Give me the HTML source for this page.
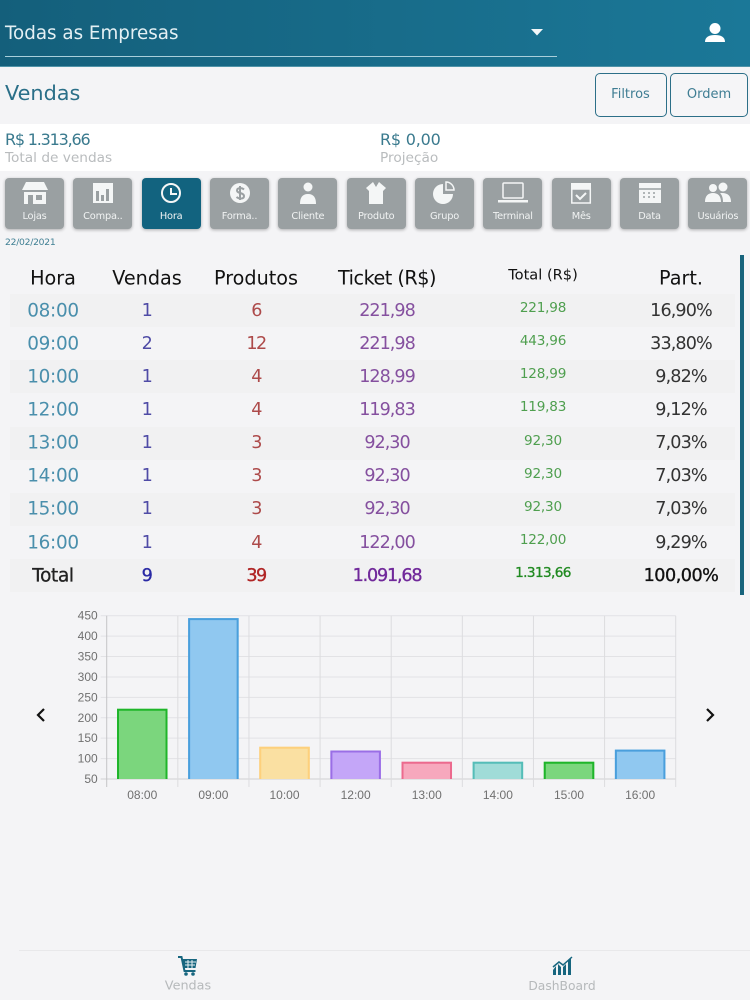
<!DOCTYPE html>
<html lang="pt-BR">
<head>
<meta charset="utf-8">
<title>Vendas por Hora</title>
<style>
html,body{margin:0;padding:0;width:750px;height:1000px;overflow:hidden;background:#f4f4f6;font-family:"DejaVu Sans","Liberation Sans",sans-serif;}
.a{position:absolute;white-space:nowrap;}
.c{transform:translate(-50%,-50%);}
#page{position:relative;width:750px;height:1000px;overflow:hidden;}
.tab{position:absolute;top:178px;width:59px;height:51px;background:#9aa0a2;border-radius:4px;box-shadow:0 1px 3px rgba(0,0,0,.3);color:#f1f3f3;text-align:center;}
.tab.on{background:#12637f;}
.tab span{position:absolute;left:-4px;right:-4px;top:33px;font-size:9.8px;line-height:12px;letter-spacing:-.2px;}
.tab svg{position:absolute;left:14.5px;top:3px;width:30px;height:24px;fill:#f4f6f6;}
.row{position:absolute;left:10px;width:725px;height:33px;}
.cell{position:absolute;white-space:nowrap;transform:translate(-50%,-50%);}
.btn{position:absolute;top:73px;height:44px;border:1.5px solid #2c6f88;border-radius:5px;box-sizing:border-box;color:#3f7d93;font-size:13px;line-height:41px;text-align:center;background:#f5f5f7;}
</style>
</head>
<body>
<div id="page">
  <div class="a" style="left:0;top:0;width:750px;height:67px;background:linear-gradient(90deg,#145f7b,#1b7898);border-bottom:1px solid #4f93a8;box-sizing:border-box;"></div>
  <div class="a" style="left:5px;top:22px;font-size:18.3px;line-height:24px;color:#e4f0f4;">Todas as Empresas</div>
  <div class="a" style="left:5px;top:56px;width:552px;height:1px;background:#a9cfdb;"></div>
  <svg class="a" style="left:531px;top:29px" width="12" height="7"><path d="M0 0H12L6 6.5Z" fill="#f2f7f9"/></svg>
  <svg class="a" style="left:704px;top:22px" width="22" height="22"><circle cx="11" cy="6.5" r="5.5" fill="#fff"/><path d="M1 20c0-5 4-7 10-7s10 2 10 7z" fill="#fff"/></svg>

  <div class="a" style="left:5px;top:80px;font-size:20.8px;line-height:27px;color:#2a6f88;">Vendas</div>
  <div class="btn" style="left:594.5px;width:72px;">Filtros</div>
  <div class="btn" style="left:670px;width:78px;">Ordem</div>

  <div class="a" style="left:0;top:124px;width:750px;height:47px;background:#fff;"></div>
  <div class="a" style="left:5px;top:130px;font-size:16px;line-height:19px;letter-spacing:-1.2px;color:#3a7a8e;">R$ 1.313,66</div>
  <div class="a" style="left:5px;top:150px;font-size:13.7px;line-height:17px;color:#b9bcbe;">Total de vendas</div>
  <div class="a" style="left:380px;top:130px;font-size:16px;line-height:19px;letter-spacing:-.2px;color:#3a7a8e;">R$ 0,00</div>
  <div class="a" style="left:380px;top:150px;font-size:13.7px;line-height:17px;color:#b9bcbe;">Projeção</div>

  <div class="tab" style="left:5px"><svg viewBox="0 0 30 24"><path d="M6 1h18l4 8H2zM4 11h22v12H4z"/><rect x="8" y="14" width="5" height="9" fill="#9aa0a2"/><rect x="16" y="14" width="6" height="5" fill="#9aa0a2"/></svg><span>Lojas</span></div>
  <div class="tab" style="left:73.4px"><svg viewBox="0 0 30 24"><path d="M5 2h20v20H5z"/><path d="M8 10h3v10H8zM13 14h3v6h-3zM18 8h3v12h-3z" fill="#9aa0a2"/></svg><span>Compa..</span></div>
  <div class="tab on" style="left:141.7px"><svg viewBox="0 0 30 24"><circle cx="15" cy="12" r="9" fill="none" stroke="#f4f6f6" stroke-width="2"/><path d="M15 7v6h6" fill="none" stroke="#f4f6f6" stroke-width="2"/></svg><span>Hora</span></div>
  <div class="tab" style="left:210px"><svg viewBox="0 0 30 24"><circle cx="15" cy="12" r="10"/><path d="M19 8.5c-2-2-7-2-7 1s7 2 7 5.500-5 3-7.500 1M15 5v14" fill="none" stroke="#9aa0a2" stroke-width="2"/></svg><span>Forma..</span></div>
  <div class="tab" style="left:278.4px"><svg viewBox="0 0 30 24"><circle cx="15" cy="6" r="4.500"/><path d="M7 23c0-6 2-10 8-10s8 4 8 10z"/></svg><span>Cliente</span></div>
  <div class="tab" style="left:346.7px"><svg viewBox="0 0 30 24"><path d="M5 7l7-6 3 5 3-5 7 6-3 3v13h-7V8l-0 0-0 0v15H8V10z"/></svg><span>Produto</span></div>
  <div class="tab" style="left:415px"><svg viewBox="0 0 30 24"><path d="M13 3a10 10 0 1 0 10 10H13z"/><path d="M16 1a8 8 0 0 1 8 8h-8z" fill="none" stroke="#f4f6f6" stroke-width="1.500"/></svg><span>Grupo</span></div>
  <div class="tab" style="left:483.4px"><svg viewBox="0 0 30 24"><rect x="5" y="2" width="20" height="15" rx="1" fill="none" stroke="#f4f6f6" stroke-width="1.500"/><rect x="0" y="19" width="30" height="2.500"/></svg><span>Terminal</span></div>
  <div class="tab" style="left:551.7px"><svg viewBox="0 0 30 24"><path d="M5 2h20v6H5z"/><rect x="5.800" y="8" width="18.500" height="14" fill="none" stroke="#f4f6f6" stroke-width="1.500"/><path d="M10 14l4 4 6-6" fill="none" stroke="#f4f6f6" stroke-width="2"/></svg><span>Mês</span></div>
  <div class="tab" style="left:620px"><svg viewBox="0 0 30 24"><path d="M4 2h22v20H4z"/><path d="M4 8h22M8 12h2M13 12h2M18 12h2M8 16h2M13 16h2M18 16h2" stroke="#9aa0a2" stroke-width="1.500" fill="none"/></svg><span>Data</span></div>
  <div class="tab" style="left:688.4px"><svg viewBox="0 0 30 24"><circle cx="10" cy="7" r="4"/><circle cx="20" cy="6" r="4.500"/><path d="M2 21c0-6 3-9 8-9s8 3 8 9zM19 12c6 0 9 3 9 9h-8c0-4-1-7-3-9z"/></svg><span>Usuários</span></div>

  <div class="a" style="left:5px;top:237px;font-size:9.2px;line-height:12px;letter-spacing:-.25px;color:#3f7f93;">22/02/2021</div>

  <div class="a" style="left:740px;top:255px;width:4px;height:340px;background:#17647c;"></div>

  <div id="table"></div>

  <svg id="chart" class="a" style="left:0;top:600px" width="750" height="210"></svg>

  <svg class="a" style="left:34px;top:707px" width="14" height="16"><path d="M10 2L4 8l6 6" fill="none" stroke="#111" stroke-width="2.200"/></svg>
  <svg class="a" style="left:703px;top:707px" width="14" height="16"><path d="M4 2l6 6-6 6" fill="none" stroke="#111" stroke-width="2.200"/></svg>

  <div class="a" style="left:19px;top:950px;width:731px;height:1px;background:#e8e8ea;"></div>
  <svg class="a" style="left:177px;top:955px" width="22" height="22"><path d="M1 2h3.500l3 14h11" fill="none" stroke="#17667f" stroke-width="2"/><path d="M5 4h15l-1.500 9H7z" fill="#17667f"/><path d="M8 7h11M8 10h10M11 5v8M15 5v8" stroke="#e7f0f3" stroke-width="1"/><circle cx="9" cy="19" r="1.800" fill="#17667f"/><circle cx="16" cy="19" r="1.800" fill="#17667f"/></svg>
  <div class="a c" style="left:188px;top:985.5px;font-size:12.800px;color:#b6b9bb;">Vendas</div>
  <svg class="a" style="left:551px;top:955px" width="24" height="22"><path d="M2 20v-5l3-4v9zM7 20V9l3 3v8zM12 20v-8l3-3v11zM17 20V6l3-3v17z" fill="#17667f"/><path d="M2 12l6-5 4 3 9-8" fill="none" stroke="#17667f" stroke-width="1.500"/></svg>
  <div class="a c" style="left:562px;top:985.5px;font-size:12.300px;color:#b6b9bb;">DashBoard</div>
</div>

<script>
var categories = ["08:00","09:00","10:00","12:00","13:00","14:00","15:00","16:00"];
var salesTotals = [221.98,443.96,128.99,119.83,92.30,92.30,92.30,122.00];
var yTickLabels = [50,100,150,200,250,300,350,400,450];
var barFills = ["#7bd67d","#90c8f0","#fae0a2","#c4a6f8","#f7a8bd","#a0dcd8","#7bd67d","#90c8f0"];
var barStrokes = ["#1fb52a","#4a9fdc","#fdd07c","#9a6ee6","#ec6a8e","#55bdb8","#1fb52a","#4a9fdc"];

var tableHeaders = ["Hora","Vendas","Produtos","Ticket (R$)","Total (R$)","Part."];
var tableHours = ["08:00","09:00","10:00","12:00","13:00","14:00","15:00","16:00"];
var tableSales = ["1","2","1","1","1","1","1","1"];
var tableProducts = ["6","12","4","4","3","3","3","4"];
var tableTickets = ["221,98","221,98","128,99","119,83","92,30","92,30","92,30","122,00"];
var tableTotals = ["221,98","443,96","128,99","119,83","92,30","92,30","92,30","122,00"];
var tableShares = ["16,90%","33,80%","9,82%","9,12%","7,03%","7,03%","7,03%","9,29%"];
var tableFooter = ["Total","9","39","1.091,68","1.313,66","100,00%"];

var NS = "http://www.w3.org/2000/svg";
var chart = document.getElementById("chart");
var plotLeft = 106.7, plotRight = 675.7, plotTop = 15.7, plotBottom = 179;
var yMin = 50, yMax = 450;

function yScale(v){ return plotBottom - (v - yMin) / (yMax - yMin) * (plotBottom - plotTop); }
function bandWidth(){ return (plotRight - plotLeft) / categories.length; }
function xBand(i){ return plotLeft + i * bandWidth(); }

function svgEl(tag, attrs, parent){
  var el = document.createElementNS(NS, tag);
  for (var k in attrs) el.setAttribute(k, attrs[k]);
  parent.appendChild(el);
  return el;
}

yTickLabels.forEach(function(t){
  var y = yScale(t);
  var line = svgEl("line", {x1: plotLeft - 6, x2: plotRight, y1: y, y2: y, stroke: t === yMin ? "#cfcfd1" : "#e2e2e5", "stroke-width": 1}, chart);
  
  
  var label = svgEl("text", {x: plotLeft - 9, y: y + 4, "text-anchor": "end", "font-size": 12, "font-family": "Liberation Sans, sans-serif", fill: "#707070"}, chart);
  label.textContent = t;
  
  
});

for (var g = 0; g <= categories.length; g++) {
  var vline = svgEl("line", {x1: xBand(g), x2: xBand(g), y1: plotTop, y2: plotBottom + 8, stroke: g === 0 ? "#c4c4c6" : "#dcdcdf", "stroke-width": 1}, chart);
  
  
}

categories.forEach(function(cat, i){
  var bw = bandWidth() * 0.71;
  var x = xBand(i) + (bandWidth() - bw) / 2;
  var top = yScale(salesTotals[i]);
  var rect = svgEl("rect", {x: x, y: top, width: bw, height: plotBottom - top, fill: barFills[i]}, chart);
  
  
  var outline = svgEl("path", {d: "M" + (x + 1) + " " + plotBottom + "V" + (top + 1) + "H" + (x + bw - 1) + "V" + plotBottom, fill: "none", stroke: barStrokes[i], "stroke-width": 2}, chart);
  
  
  var label = svgEl("text", {x: xBand(i) + bandWidth() / 2, y: plotBottom + 20, "text-anchor": "middle", "font-size": 12, "font-family": "Liberation Sans, sans-serif", fill: "#707070"}, chart);
  label.textContent = cat;
  
  
});

var table = document.getElementById("table");
var colX = [53,147,256,387,543,681];
var colColors = ["#4a8fac","#4f4ba6","#ad4a4a","#85509f","#4f9f4f","#333"];
var colSize = [18.4,17.6,17.6,17.6,13.6,17.6];
var colSpacing = [-.3,-.4,-1.6,-1,-.2,-.9];
var headSpacing = [0,0,0,-.5,0,0];
var rowY0 = 310.5, rowStep = 33.15;

function addCell(text, x, y, color, size, spacing, name, stroke){
  var c = document.createElement("div");
  c.className = "cell";
  c.style.left = x + "px";
  c.style.top = y + "px";
  c.style.color = color;
  c.style.fontSize = size + "px";
  c.style.letterSpacing = spacing + "px";
  if (stroke) c.style.webkitTextStroke = stroke + "px " + color;
  c.textContent = text;
  
  
  table.appendChild(c);
}

function addStripe(y, name){
  var band = document.createElement("div");
  band.className = "row";
  band.style.top = (y - 16.5) + "px";
  band.style.background = "#f1f1f2";
  
  
  table.appendChild(band);
}

tableHeaders.forEach(function(h, i){
  addCell(h, colX[i], i === 4 ? 275 : 278, "#111", i === 4 ? 14.6 : 19.2, headSpacing[i], 'column-header');
});

var columns = [tableHours, tableSales, tableProducts, tableTickets, tableTotals, tableShares];
tableHours.forEach(function(_, r){
  var y = rowY0 + r * rowStep;
  if (r % 2 === 0) addStripe(y, 'row-stripe');
  columns.forEach(function(col, i){
    addCell(col[r], colX[i], i === 4 ? y - 2.5 : y, colColors[i], colSize[i], colSpacing[i], 'table-cell');
  });
});

var footerY = rowY0 + 8 * rowStep;
addStripe(footerY, 'total-row-stripe');
var footColors = ["#222","#2a2aa5","#b02525","#70289a","#218a21","#111"];
var footSpacing = [-.3,-.4,-1.6,-1.2,-.6,-.5];
tableFooter.forEach(function(t, i){
  addCell(t, colX[i], i === 4 ? footerY - 2.5 : footerY, footColors[i], i === 0 ? 18.4 : colSize[i], footSpacing[i], 'total-cell', 0.35);
});
</script>
</body>
</html>
